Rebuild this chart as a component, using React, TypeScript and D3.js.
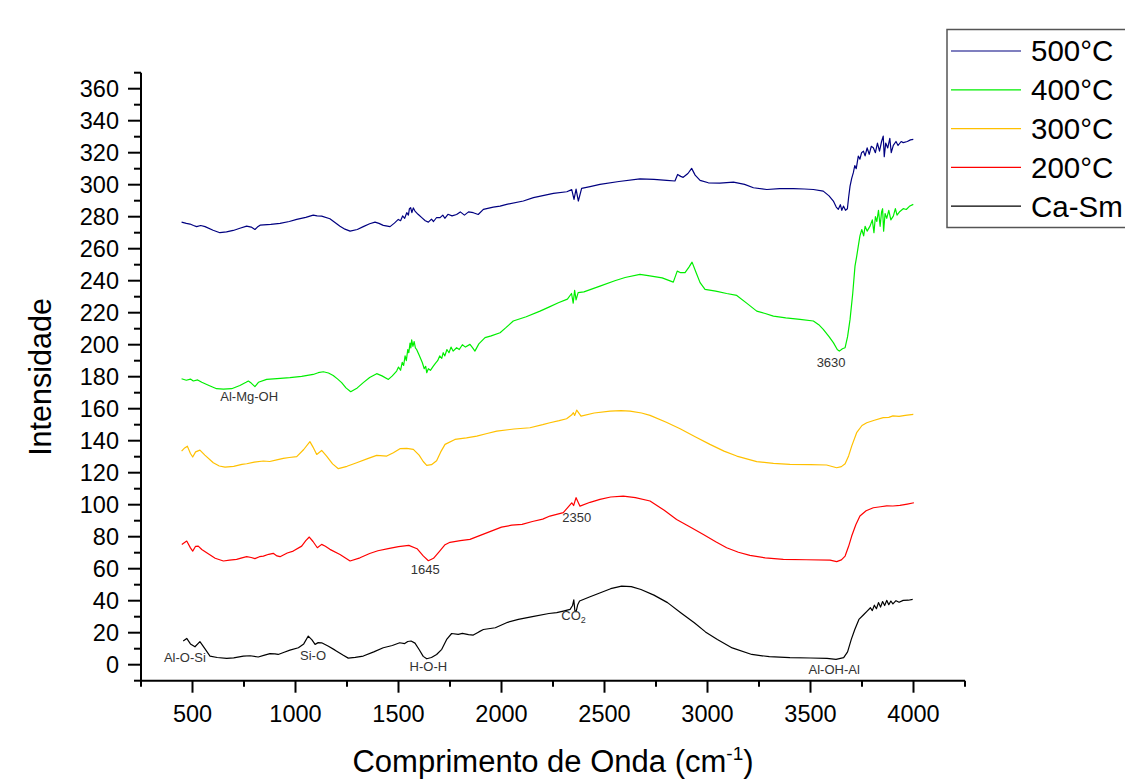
import React from "react";
import * as d3 from "d3";

const xTickLabels = [500, 1000, 1500, 2000, 2500, 3000, 3500, 4000];
const yTickLabels = [0, 20, 40, 60, 80, 100, 120, 140, 160, 180, 200, 220, 240, 260, 280, 300, 320, 340, 360];
const seriesNames = ["500°C", "400°C", "300°C", "200°C", "Ca-Sm"];
const seriesColors = ["#000080", "#00ee00", "#ffc000", "#ff0000", "#000000"];

const caSm: [number, number][] = [[455,14.8],[472,16.4],[490,13],[512,11.2],[536,14.4],[560,10],[585,5.4],[620,4.5],[666,3.9],[700,4.3],[747,5.4],[780,5.6],[819,4.8],[850,6],[876,6.9],[900,6.8],[916,6.4],[945,7.8],[973,9.1],[1014,10.6],[1040,13],[1062,17.9],[1080,15.5],[1095,12.7],[1110,13.8],[1127,13.7],[1160,11.5],[1192,9.1],[1230,6],[1256,4.1],[1290,4.6],[1329,5.4],[1380,8],[1426,10.6],[1470,12],[1506,13.7],[1530,13.2],[1545,14.5],[1561,14.8],[1580,13.5],[1600,9.5],[1620,5.2],[1637,3.7],[1660,4.5],[1685,6.4],[1710,9.6],[1735,16],[1758,19.5],[1790,19],[1810,19.6],[1840,18.8],[1863,18.5],[1890,20.5],[1912,22],[1970,23.1],[2030,26.5],[2082,28.3],[2150,30],[2230,32],[2268,32.5],[2300,33.5],[2333,34.6],[2345,37],[2351,40.5],[2356,34],[2362,33],[2370,37.5],[2379,39.8],[2430,42.5],[2480,45],[2530,47.5],[2583,49.1],[2630,48.8],[2677,47],[2740,43.5],[2806,38.8],[2870,32.5],[2936,26.2],[2990,20.5],[3048,15.8],[3120,10.5],[3215,6.4],[3300,5],[3400,4.4],[3500,4.2],[3580,4],[3624,3.3],[3661,4.4],[3680,8],[3698,15.8],[3715,22],[3735,28.3],[3760,31.5],[3775,33.5],[3791,35.6],[3800,33.8],[3810,37.2],[3820,35],[3830,38.8],[3840,36],[3850,39.5],[3860,37],[3870,40.2],[3880,37.5],[3890,39.8],[3900,38],[3915,40],[3930,39],[3950,40.2],[3975,40.3],[3996,40.8]];

const s200: [number, number][] = [[448,75.2],[472,77.3],[490,73],[501,71],[515,74],[528,74.1],[545,72],[569,70],[610,66.5],[650,64.8],[680,65.3],[714,65.8],[740,66.8],[763,67.5],[785,67],[803,66.3],[825,67.5],[844,67.9],[870,69],[892,69.6],[910,68],[925,67.5],[960,69.8],[989,71],[1030,74.1],[1050,77.5],[1067,79.8],[1085,77],[1106,73.1],[1127,75.2],[1145,74],[1167,72.1],[1216,68.9],[1265,64.8],[1313,66.8],[1360,69.5],[1400,71.2],[1450,72.5],[1500,73.8],[1550,74.6],[1590,72.5],[1620,68],[1645,65],[1670,66.5],[1700,71],[1726,75],[1750,76.5],[1800,77.5],[1847,78.3],[1900,81],[1950,83.5],[2000,86],[2050,87.2],[2100,87.7],[2150,89.5],[2200,91],[2235,92.9],[2300,95],[2341,101.2],[2350,99.5],[2362,104.4],[2381,99.1],[2430,101.5],[2478,103.3],[2530,104.8],[2591,105.4],[2650,104.4],[2721,102.3],[2790,96.5],[2850,90.8],[2920,85.8],[2980,81.4],[3040,76.8],[3093,73.1],[3150,70.3],[3206,68.3],[3280,66.8],[3368,65.8],[3480,65.6],[3595,65.4],[3627,64.4],[3650,65.5],[3668,67.9],[3685,74],[3700,80.4],[3720,87.5],[3740,92.9],[3770,96.2],[3805,98.1],[3840,98.7],[3870,99.3],[3900,99.2],[3934,99.6],[3970,100.4],[4002,101.2]];

const s300: [number, number][] = [[447,133.5],[462,135.5],[475,136.6],[490,132],[501,129.8],[515,133],[536,134.1],[560,131],[601,126.2],[630,124.2],[658,123.5],[700,124],[740,125.2],[763,125.6],[800,126.6],[844,127.3],[875,127],[909,128],[941,128.9],[970,129.5],[1006,130],[1040,134.5],[1070,139.4],[1085,136],[1103,131.4],[1127,133.9],[1151,130.4],[1180,125.5],[1208,122.5],[1250,124],[1297,126.2],[1350,128.8],[1394,130.8],[1443,130.4],[1475,132.5],[1507,135],[1540,135.2],[1572,134.6],[1600,131],[1620,127],[1637,124.6],[1660,125],[1685,127.5],[1705,133],[1726,137.7],[1774,140.8],[1830,141.8],[1880,142.9],[1930,144.5],[1977,146],[2060,147.3],[2138,148.1],[2200,150],[2235,151.2],[2280,152.5],[2316,153.7],[2340,156],[2349,157.5],[2355,155.8],[2365,159.1],[2386,155.4],[2450,157.3],[2527,158.5],[2580,158.8],[2624,158.5],[2680,157.3],[2721,155.8],[2800,151.5],[2867,147.5],[2940,142.5],[3012,137.7],[3080,133.5],[3142,130.4],[3239,126.9],[3320,125.8],[3400,125.2],[3500,125],[3578,124.8],[3627,123.1],[3650,123.8],[3668,125.6],[3685,130.5],[3700,136.6],[3724,145],[3750,149.5],[3773,151.2],[3810,152.8],[3853,154.4],[3880,154.6],[3900,155.5],[3930,155.2],[3960,155.8],[3999,156.4]];

const s400: [number, number][] = [[447,178.7],[470,177.8],[490,178.5],[504,177.3],[525,178],[545,176.5],[580,174.5],[617,172.5],[650,172.2],[690,172.5],[730,174.5],[760,176.5],[771,177.3],[785,176],[803,173.8],[820,176.5],[860,178.3],[910,178.8],[973,179.4],[1030,180.2],[1086,181.4],[1110,182.5],[1135,183.1],[1160,182.3],[1183,180.8],[1205,178.5],[1224,176.3],[1245,173],[1268,170.6],[1300,173],[1329,176.3],[1360,179.5],[1394,181.9],[1420,180.5],[1451,178.3],[1470,180.5],[1491,183.5],[1500,186],[1510,184],[1518,189],[1525,187],[1532,193],[1538,190],[1545,197],[1550,195],[1556,201],[1560,198],[1564,203],[1570,199],[1576,202],[1582,198],[1588,197],[1600,193.5],[1615,189],[1625,185],[1632,186.5],[1637,182.5],[1645,185],[1655,184],[1669,186.6],[1680,188.5],[1690,190],[1700,193],[1710,191.5],[1717,195],[1725,193],[1735,197],[1745,195],[1755,198.5],[1765,196],[1782,198.1],[1795,197],[1810,200],[1825,198.5],[1847,200.2],[1860,198],[1871,196],[1890,200.5],[1920,204.4],[1950,205.5],[1993,207.5],[2020,210.5],[2057,214.8],[2120,217.5],[2187,221],[2230,223.5],[2276,226.2],[2320,228.5],[2340,232],[2348,226],[2355,234],[2362,228],[2372,232.5],[2400,233],[2478,236.6],[2550,240],[2600,242],[2672,243.9],[2720,243],[2780,241.8],[2834,239.1],[2853,246],[2870,245],[2891,245],[2910,248.5],[2925,251.6],[2945,245],[2964,238.8],[2988,234.6],[3040,233.5],[3093,232],[3142,230.8],[3190,226],[3239,221],[3280,219.5],[3320,217.9],[3380,216.8],[3449,215.8],[3514,214.8],[3540,212.5],[3562,209.6],[3590,205],[3611,201.3],[3630,197],[3640,196],[3655,197.5],[3668,198.1],[3680,205],[3692,215.8],[3705,232],[3716,249.1],[3724,255],[3732,261.6],[3740,268],[3749,272],[3758,268],[3765,274],[3775,271],[3789,274.1],[3800,278],[3808,270],[3815,280],[3822,277],[3830,284],[3838,274],[3845,283],[3850,285],[3855,271],[3862,282],[3870,279],[3880,284],[3890,278],[3902,280.4],[3912,285],[3920,281],[3934,283.3],[3950,285],[3965,284.5],[3980,286.5],[3999,287.7]];

const s500: [number, number][] = [[447,276.6],[470,275.8],[488,275.4],[505,274.5],[520,273.8],[540,274.5],[561,273.8],[600,271.5],[633,270],[665,270.5],[698,271.4],[730,272.8],[763,274.1],[785,273.5],[803,272],[815,273.5],[828,274.7],[880,275.2],[925,275.8],[970,277],[1006,278.3],[1050,279.6],[1086,281],[1105,280.5],[1127,280.4],[1167,278.7],[1190,276.5],[1216,274.1],[1240,272.2],[1265,271],[1300,272],[1329,273.8],[1360,275.6],[1386,276.6],[1405,275.8],[1426,274.6],[1459,273.8],[1480,276],[1499,278.3],[1510,277.5],[1520,280.5],[1530,279],[1540,282.5],[1548,281],[1553,285],[1559,285.6],[1565,282.5],[1572,285.5],[1580,283.5],[1595,281.5],[1613,279.4],[1630,277.5],[1645,276.6],[1660,278.5],[1670,277],[1685,279.5],[1702,279.4],[1715,281],[1725,279],[1740,281.5],[1760,280.5],[1782,281.4],[1800,283],[1820,281],[1840,283],[1863,282.5],[1887,281.4],[1912,284.6],[1960,286],[1993,286.6],[2025,287.7],[2106,289.8],[2155,291.9],[2252,294.6],[2317,295.6],[2341,296.9],[2352,290.8],[2362,297.3],[2373,289.8],[2389,297.7],[2430,298.8],[2478,300.2],[2570,302],[2672,303.7],[2740,303.3],[2802,302.7],[2842,302.3],[2855,306.4],[2870,305.2],[2882,304.6],[2905,307],[2923,310.2],[2940,306],[2964,302.7],[3004,301.2],[3060,301],[3126,301.6],[3180,300.2],[3223,298.1],[3288,297],[3350,297.5],[3417,297.5],[3470,297.3],[3514,297],[3562,296],[3590,293],[3611,289.8],[3625,286],[3635,284.6],[3645,287.5],[3652,284],[3660,286.6],[3670,284],[3679,285],[3685,292],[3692,299.1],[3700,304],[3708,307.5],[3715,312],[3722,310],[3732,317.9],[3740,316],[3748,320],[3757,321],[3765,318],[3775,323],[3785,319],[3795,324],[3805,323.1],[3815,320],[3825,326],[3835,321],[3845,327],[3853,330.4],[3858,317.5],[3865,326],[3875,323],[3885,329],[3892,320],[3902,324.6],[3915,327],[3925,324.5],[3940,327],[3950,326.3],[3970,327],[3985,328],[3999,328.3]];

const seriesData = [s500, s400, s300, s200, caSm];

// annotations: [label, x-value, y-value]
const annotations: [string, number, number][] = [
  ["Al-O-Si", 463, 2],
  ["Si-O", 1085, 3],
  ["H-O-H", 1645, -4],
  ["1645", 1630, 57],
  ["2350", 2365, 89],
  ["Al-OH-Al", 3615, -6],
  ["3630", 3600, 186],
  ["Al-Mg-OH", 775, 165],
];

const FONT = "Arial, 'Liberation Sans', Helvetica, sans-serif";

export default function App() {
  const x = d3.scaleLinear().domain([250, 4250]).range([141, 965]);
  const y = d3.scaleLinear().domain([-10, 370]).range([680.7, 72.7]);
  const line = d3
    .line<[number, number]>()
    .x((d) => x(d[0]))
    .y((d) => y(d[1]));

  const xMinor = d3.range(250, 4251, 250);
  const yMinor = d3.range(-10, 371, 10);
  const axisY = y(-10);
  const axisX = x(250);

  return (
    <div style={{ position: "absolute", left: 0, top: 0 }}>
      <svg width={1125} height={780} style={{ display: "block", background: "#fff" }} fontFamily={FONT}>
        <rect width={1125} height={780} fill="#fff" />
        {seriesData.map((d, i) => (
          <path key={i} d={line(d) || ""} fill="none" stroke={seriesColors[i]} strokeWidth={1.2} strokeLinejoin="round" />
        ))}
        {annotations.map(([t, vx, vy], i) => (
          <text key={i} x={x(vx)} y={y(vy)} textAnchor="middle" fontSize={13} fill="#333">
            {t}
          </text>
        ))}
        <text x={x(2350)} y={y(28)} textAnchor="middle" fontSize={13} fill="#333">
          CO<tspan fontSize={9} dy={3}>2</tspan>
        </text>
        <line x1={axisX} x2={axisX} y1={y(370)} y2={axisY + 1} stroke="#000" strokeWidth={2} />
        <line x1={axisX - 1} x2={x(4250)} y1={axisY} y2={axisY} stroke="#000" strokeWidth={2} />
        {yMinor.map((v) => (
          <line key={"ym" + v} x1={axisX} x2={axisX - (v % 20 === 0 ? 13 : 7)} y1={y(v)} y2={y(v)} stroke="#000" strokeWidth={2} />
        ))}
        {xMinor.map((v) => (
          <line key={"xm" + v} x1={x(v)} x2={x(v)} y1={axisY} y2={axisY + (v % 500 === 0 ? 12 : 6)} stroke="#000" strokeWidth={2} />
        ))}
        {yTickLabels.map((v) => (
          <text key={"yl" + v} x={119} y={y(v)} dy="0.35em" textAnchor="end" fontSize={23.5} fill="#000">
            {v}
          </text>
        ))}
        {xTickLabels.map((v) => (
          <text key={"xl" + v} x={x(v)} y={722} textAnchor="middle" fontSize={23.5} fill="#000">
            {v}
          </text>
        ))}
        <text transform={`translate(51,377) rotate(-90)`} textAnchor="middle" fontSize={30.5} fill="#000">
          Intensidade
        </text>
        <text x={553} y={772} textAnchor="middle" fontSize={31} fill="#000">
          Comprimento de Onda (cm<tspan fontSize={19} dy={-12}>-1</tspan><tspan dy={12}>)</tspan>
        </text>
        <rect x={947} y={29.5} width={200} height={198} fill="#fff" stroke="#555" strokeWidth={1.5} />
        {seriesNames.map((n, i) => (
          <g key={n}>
            <line x1={951} x2={1021} y1={51 + i * 38.8} y2={51 + i * 38.8} stroke={seriesColors[i]} strokeWidth={1.2} />
            <text x={1031} y={51 + i * 38.8} dy="0.35em" fontSize={29.5} fill="#000">
              {n}
            </text>
          </g>
        ))}
      </svg>
    </div>
  );
}
